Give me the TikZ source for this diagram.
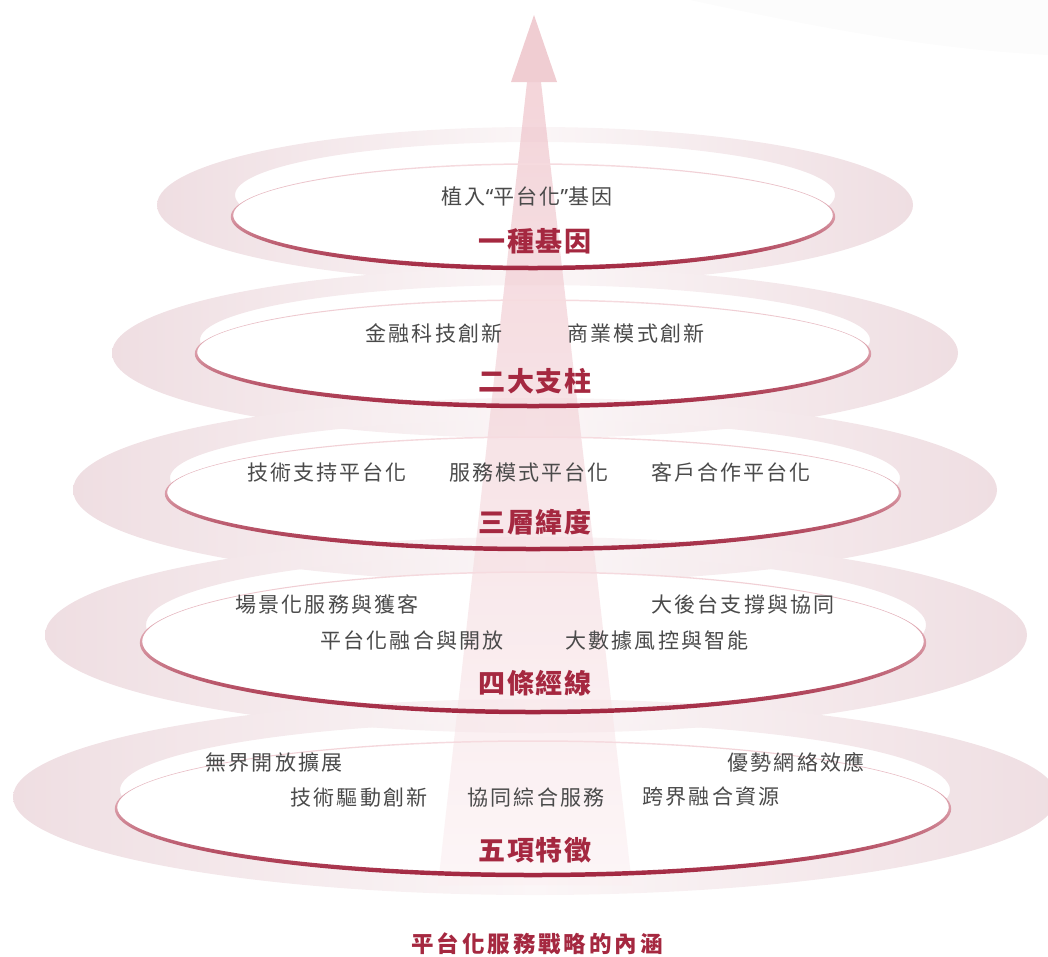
\documentclass[tikz,border=0pt]{standalone}
\usepackage{fontspec}
\newfontfamily\cjk[LetterSpace=10]{Noto Sans CJK TC}
\newfontfamily\cjkt[LetterSpace=5]{Noto Sans CJK TC}
\newfontfamily\cjkc[LetterSpace=13]{Noto Sans CJK TC}
\definecolor{itemgray}{HTML}{4A4A4A}
\definecolor{titlered}{HTML}{A52840}
\definecolor{bandpink}{HTML}{EFDEE2}
\definecolor{bandmid}{HTML}{FBF6F7}
\definecolor{rimtop}{HTML}{F6DCE0}
\definecolor{rimmid}{HTML}{D99AA6}
\definecolor{rimbot}{HTML}{A0233D}
\definecolor{arrowtop}{HTML}{ECB9C1}
\definecolor{arrowbot}{HTML}{FBF0F2}
\definecolor{arrowhead}{HTML}{F0CDD2}
\tikzset{
  item/.style={font=\cjk\fontsize{21}{24}\selectfont, text=itemgray, inner sep=0pt},
  ttl/.style={font=\cjkt\bfseries\fontsize{27}{30}\selectfont, text=titlered, inner sep=0pt},
  capt/.style={font=\cjkc\bfseries\fontsize{22.5}{26}\selectfont, text=titlered, inner sep=0pt},
}
% band ring: cx cy rx ry holecy holerx holery
\newcommand\bandring[7]{%
  \shade[even odd rule, left color=bandpink, right color=bandpink, middle color=bandmid]
    (#1,#2) ellipse [x radius=#3, y radius=#4]
    (#1,#5) ellipse [x radius=#6, y radius=#7];}
% white inner disc: cx cy rx ry
\newcommand\innerdisc[4]{\fill[white] (#1,#2) ellipse [x radius=#3, y radius=#4];}
% red rim: cx cy rx ry
\newcommand\rimring[4]{%
  \shade[even odd rule, top color=rimtop, bottom color=rimbot, middle color=rimmid]
    (#1,#2+0.75) ellipse [x radius=#3+1.2, y radius=#4+1.5]
    (#1,#2-0.75) ellipse [x radius=#3-1.2, y radius=#4-1.5];}
\begin{document}
\begin{tikzpicture}[x=1pt,y=-1pt]
\useasboundingbox (0,0) rectangle (1048,956);
% faint top-right shape
\fill[black, opacity=0.012] (690,0) .. controls (850,35) and (950,50) .. (1048,55) -- (1048,0) -- cycle;
% layer bands and white discs
\bandring{535}{205}{378}{78}{195}{300}{53}
\innerdisc{533}{216}{301}{52}
\bandring{535}{353}{423}{85}{340}{335}{55}
\innerdisc{533}{353}{337}{53}
\bandring{535}{490}{462}{92}{478}{365}{58}
\innerdisc{533}{493}{367}{56}
\bandring{536}{635}{491}{98}{625}{390}{70}
\innerdisc{533}{642}{392}{70}
\bandring{535}{797}{522}{98}{790}{415}{68}
\innerdisc{533}{808}{417}{67}
% arrow
\coordinate (sl) at (438,885);
\coordinate (sr) at (632,885);
\coordinate (tl) at (527,82);
\coordinate (tr) at (541,82);
\coordinate (hl) at (511,82);
\coordinate (hr) at (557,82);
\coordinate (tip) at (534,15);
\shade[top color=arrowtop, bottom color=arrowbot, fill opacity=0.6] (sl) -- (tl) -- (tr) -- (sr) -- cycle;
\fill[arrowhead] (hl) -- (tip) -- (hr) -- cycle;
% rims
\rimring{533}{216}{301}{52}
\rimring{533}{353}{337}{53}
\rimring{533}{493}{367}{56}
\rimring{533}{642}{392}{70}
\rimring{533}{808}{417}{67}
% layer 1
\node[item] (a1) at (527,196) {植入{\fontspec{Noto Sans}“}平台化{\fontspec{Noto Sans}”}基因};
\node[ttl] (t1) at (535,241) {一種基因};
% layer 2
\node[item] (b1) at (434,333) {金融科技創新};
\node[item] (b2) at (636,333) {商業模式創新};
\node[ttl] (t2) at (535,381) {二大支柱};
% layer 3
\node[item] (c1) at (327,472) {技術支持平台化};
\node[item] (c2) at (529,472) {服務模式平台化};
\node[item] (c3) at (731,472) {客戶合作平台化};
\node[ttl] (t3) at (535,522) {三層緯度};
% layer 4
\node[item] (d1) at (327,604) {場景化服務與獲客};
\node[item] (d2) at (743,604) {大後台支撐與協同};
\node[item] (d3) at (412,640) {平台化融合與開放};
\node[item] (d4) at (657,640) {大數據風控與智能};
\node[ttl] (t4) at (535,683) {四條經線};
% layer 5
\node[item] (e1) at (274,762) {無界開放擴展};
\node[item] (e2) at (796,762) {優勢網絡效應};
\node[item] (e3) at (359,797) {技術驅動創新};
\node[item] (e4) at (536,797) {協同綜合服務};
\node[item] (e5) at (711,797) {跨界融合資源};
\node[ttl] (t5) at (535,850) {五項特徵};
% caption
\node[capt] (cap) at (537,944) {平台化服務戰略的內涵};
\end{tikzpicture}
\end{document}
